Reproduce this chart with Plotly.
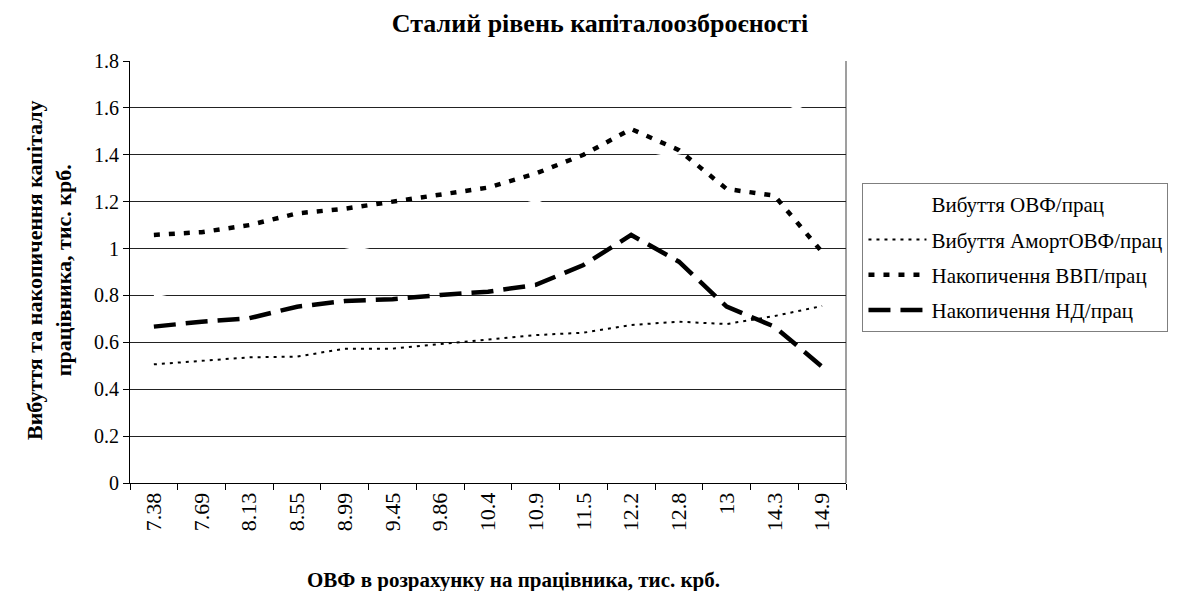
import plotly.graph_objects as go

categories = ["7.38", "7.69", "8.13", "8.55", "8.99", "9.45", "9.86", "10.4",
              "10.9", "11.5", "12.2", "12.8", "13", "14.3", "14.9"]

vybuttia_ovf = [0.80, 0.84, 0.89, 0.94, 0.99, 1.03, 1.08, 1.14,
                1.20, 1.29, 1.37, 1.41, 1.45, 1.56, 1.65]
vybuttia_amort = [0.506, 0.52, 0.536, 0.539, 0.573, 0.573, 0.592, 0.61,
                  0.631, 0.641, 0.674, 0.688, 0.678, 0.712, 0.755]
nakop_vvp = [1.058, 1.07, 1.10, 1.15, 1.17, 1.20, 1.23, 1.26,
             1.32, 1.40, 1.51, 1.42, 1.254, 1.226, 0.985]
nakop_nd = [0.667, 0.688, 0.703, 0.752, 0.776, 0.784, 0.802, 0.816,
            0.845, 0.93, 1.058, 0.944, 0.752, 0.667, 0.496]

series_names = ["Вибуття ОВФ/прац", "Вибуття АмортОВФ/прац",
                "Накопичення ВВП/прац", "Накопичення НД/прац"]

title_text = "Сталий рівень капіталоозброєності"
x_title = "ОВФ в розрахунку на працівника, тис. крб."
y_title = "Вибуття та накопичення капіталу<br>працівника, тис. крб."

FONT = "Liberation Serif"

fig = go.Figure()
fig.add_trace(go.Scatter(x=categories, y=vybuttia_ovf, name=series_names[0], legendgroup="a",
                         mode="lines", line=dict(color="#ffffff", width=4)))
fig.add_trace(go.Scatter(x=categories, y=vybuttia_amort, name=series_names[1], legendgroup="b",
                         mode="lines", line=dict(color="#000000", width=2, dash="3px,5px")))
fig.add_trace(go.Scatter(x=categories, y=nakop_vvp, name=series_names[2], legendgroup="c",
                         mode="lines", line=dict(color="#000000", width=4.5, dash="6px,9px")))
fig.add_trace(go.Scatter(x=categories, y=nakop_nd, name=series_names[3], legendgroup="d",
                         mode="lines", line=dict(color="#000000", width=4.5, dash="22px,10px")))

# page body adds an 8px offset, so margins are shifted accordingly
fig.update_layout(
    template="none",
    width=1184, height=591,
    paper_bgcolor="white", plot_bgcolor="white",
    margin=dict(l=122, r=346, t=53, b=116),
    font=dict(family=FONT, color="black", size=20),
    title=dict(text="<b>" + title_text + "</b>",
               x=0.5, xanchor="center", y=0.975, yanchor="middle",
               font=dict(family=FONT, size=26, color="black")),
    showlegend=True,
    legend=dict(x=1.023, xanchor="left", y=0.711, yanchor="top",
                bordercolor="#7f7f7f", borderwidth=1, bgcolor="white",
                font=dict(family=FONT, size=21, color="black"),
                itemwidth=58, tracegroupgap=5),
    xaxis=dict(type="category", range=[-0.5, 14.5], tickson="boundaries",
               ticks="outside", ticklen=6, tickcolor="black",
               showline=True, linecolor="black", linewidth=1,
               showgrid=False, tickangle=-90,
               tickfont=dict(family=FONT, size=22, color="black")),
    yaxis=dict(range=[0, 1.8], dtick=0.2, tick0=0,
               ticks="outside", ticklen=6, tickcolor="black",
               showline=True, linecolor="black", linewidth=1,
               showgrid=True, gridcolor="#222222", gridwidth=1,
               zeroline=False,
               tickfont=dict(family=FONT, size=20, color="black")),
    shapes=[dict(type="line", xref="paper", yref="paper", x0=1, x1=1, y0=0, y1=1,
                 line=dict(color="#7f7f7f", width=1.5), layer="below")],
    annotations=[
        dict(xref="paper", yref="paper", x=0.535, y=-0.23, xanchor="center", yanchor="middle",
             text="<b>" + x_title + "</b>", showarrow=False,
             font=dict(family=FONT, size=21, color="black")),
        dict(xref="paper", yref="paper", x=-0.113, y=0.505, xanchor="center", yanchor="middle",
             text="<b>" + y_title + "</b>", showarrow=False, textangle=-90,
             font=dict(family=FONT, size=22, color="black")),
    ],
)

fig.write_html("out.html")
